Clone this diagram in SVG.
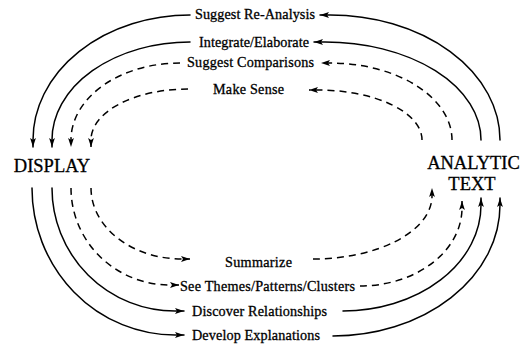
<svg xmlns="http://www.w3.org/2000/svg" width="524" height="345" viewBox="0 0 524 345">
  <style>
    .node { font-family: "Liberation Serif", "Times New Roman", serif; font-size: 18.5px; fill: #000; stroke: #000; stroke-width: 0.3; text-anchor: middle; }
    .lbl { font-family: "Liberation Serif", "Times New Roman", serif; font-size: 14.2px; fill: #000; stroke: #000; stroke-width: 0.3; text-anchor: middle; }
    .ln { fill: none; stroke: #000; stroke-width: 1.5; stroke-linecap: round; }
    .dash { stroke-dasharray: 7 5; stroke-linecap: butt; }
    .arr { marker-end: url(#head); }
  </style>
  <defs>
    <marker id="head" markerUnits="userSpaceOnUse" markerWidth="10" markerHeight="7" refX="9" refY="3.5" orient="auto">
      <path d="M0,0.6 L9,3.5 L0,6.4 L2,3.5 z" fill="#000"/>
    </marker>
  </defs>

  <!-- nodes -->
  <g id="display">
    <text class="node" x="52" y="172">DISPLAY</text>
  </g>
  <g id="analytic-text">
    <text class="node" x="473.5" y="169">ANALYTIC</text>
    <text class="node" x="472" y="190">TEXT</text>
  </g>

  <!-- connectors: text back to display (top), display to text (bottom) -->
  <g id="connectors">
    <g id="suggest-reanalysis">
      <path class="ln arr" d="M500,140 A170,125 0 0 0 330,15 L320,15"/>
      <path class="ln arr" d="M190,15 A157,125 0 0 0 33,140 L33,147"/>
      <text class="lbl" x="255" y="18.5" textLength="120">Suggest Re-Analysis</text>
    </g>
    <g id="integrate-elaborate">
      <path class="ln arr" d="M481,140 A156,98 0 0 0 325,42 L314,42"/>
      <path class="ln arr" d="M190,42 A138,98 0 0 0 52,140 L52,147"/>
      <text class="lbl" x="254" y="46.5" textLength="110">Integrate/Elaborate</text>
    </g>
    <g id="suggest-comparisons">
      <path class="ln dash arr" d="M452,140 A122,77 0 0 0 330,63 L321,63"/>
      <path class="ln dash arr" d="M180,63 A109,77 0 0 0 71,140 L71,147"/>
      <text class="lbl" x="250.5" y="67" textLength="127">Suggest Comparisons</text>
    </g>
    <g id="make-sense">
      <path class="ln dash arr" d="M422,140 A104,50 0 0 0 318,90 L309,90"/>
      <path class="ln dash arr" d="M188,89 A97,51 0 0 0 91,140 L91,147"/>
      <text class="lbl" x="248.5" y="93.5" textLength="71">Make Sense</text>
    </g>

    <g id="summarize">
      <path class="ln dash arr" d="M91,188 A91,71 0 0 0 182,259 L190,259"/>
      <path class="ln dash arr" d="M313,259 A119,63 0 0 0 432,196 L432,188"/>
      <text class="lbl" x="258.5" y="267" textLength="67">Summarize</text>
    </g>
    <g id="see-themes">
      <path class="ln dash arr" d="M71,188 A99,97 0 0 0 170,285 L179,285"/>
      <path class="ln dash arr" d="M360,286 A102,78 0 0 0 462,208 L462,201"/>
      <text class="lbl" x="267.5" y="290.5" textLength="175">See Themes/Patterns/Clusters</text>
    </g>
    <g id="discover-relationships">
      <path class="ln arr" d="M52,188 A123,123 0 0 0 175,311 L184,311"/>
      <path class="ln arr" d="M343,311 A138,106 0 0 0 481,205 L481,198"/>
      <text class="lbl" x="259.5" y="316" textLength="135">Discover Relationships</text>
    </g>
    <g id="develop-explanations">
      <path class="ln arr" d="M32,188 A143,147 0 0 0 175,335 L184,335"/>
      <path class="ln arr" d="M333,336 A167,131 0 0 0 500,205 L500,198"/>
      <text class="lbl" x="256" y="339.5" textLength="128">Develop Explanations</text>
    </g>
  </g>
</svg>
